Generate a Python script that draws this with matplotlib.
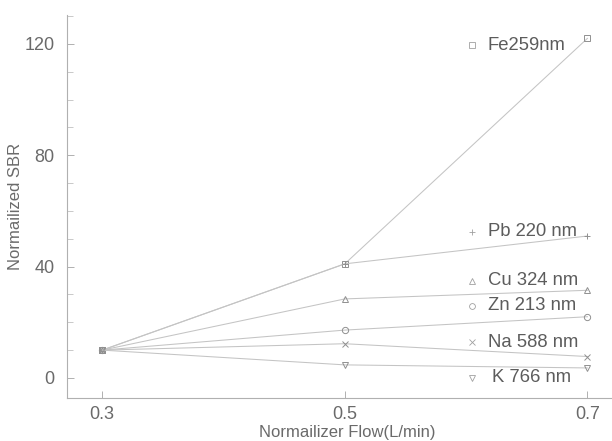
import matplotlib
matplotlib.use("Agg")
import matplotlib.pyplot as plt
from matplotlib.ticker import MultipleLocator

plt.rcParams['font.family'] = ['Liberation Sans', 'DejaVu Sans']

flow = [0.3, 0.5, 0.7]
fe = [10, 41, 122]
pb = [10, 41, 51]
cu = [10, 28.4, 31.5]
zn = [10, 17.2, 22]
na = [10, 12.3, 7.7]
k = [10, 4.7, 3.6]

series = [
    ("Fe259nm", fe, "s"),
    ("Pb 220 nm", pb, "+"),
    ("Cu 324 nm", cu, "^"),
    ("Zn 213 nm", zn, "o"),
    ("Na 588 nm", na, "x"),
    ("K 766 nm", k, "v"),
]
label_y = [119.6, 52.5, 34.9, 25.9, 12.9, 0.0]

fig = plt.figure(figsize=(6.12, 4.41), dpi=100)
ax = fig.add_axes([0.1095, 0.0975, 0.89, 0.8685])

line_c = "#c4c4c4"
mk_c = "#909090"
txt_c = "#5c5c5c"

for (name, vals, m), ly in zip(series, label_y):
    ax.plot(flow, vals, color=line_c, lw=0.75, marker=m, ms=4.5,
            mfc="none", mec=mk_c, mew=0.7)
    ax.plot([0.605], [ly], marker=m, ms=4.2, mfc="none", mec="#a0a0a0",
            mew=0.6, ls="none")
    ax.text(0.618 + (0.003 if name.startswith("K") else 0), ly, name,
            fontsize=13.3, color=txt_c, va="center", ha="left")

ax.set_xlim(0.271, 0.72)
ax.set_ylim(-7.2, 130.4)
ax.set_xticks(flow)
ax.set_xticklabels(["0.3", "0.5", "0.7"])
ax.set_yticks([0, 40, 80, 120])
ax.yaxis.set_minor_locator(MultipleLocator(10))

for s in ["top", "right"]:
    ax.spines[s].set_visible(False)
for s in ["left", "bottom"]:
    ax.spines[s].set_color("#b0b0b0")
    ax.spines[s].set_linewidth(0.8)

ax.tick_params(axis="both", which="major", direction="in", length=5,
               width=0.7, color="#b0b0b0", labelsize=13, labelcolor="#6a6a6a")
ax.tick_params(axis="y", which="major", pad=9)
ax.tick_params(axis="x", which="major", pad=6)
ax.tick_params(axis="y", which="minor", direction="in", length=4,
               width=0.6, color="#c0c0c0")

ax.set_ylabel("Normailized SBR", fontsize=12, color="#6a6a6a")
ax.yaxis.set_label_coords(-0.081, 0.5)
fig.text(347 / 612, 1 - 437 / 441, "Normailizer Flow(L/min)", fontsize=12,
         color="#6a6a6a", ha="center", va="baseline")

fig.savefig("out.png", dpi=100)
